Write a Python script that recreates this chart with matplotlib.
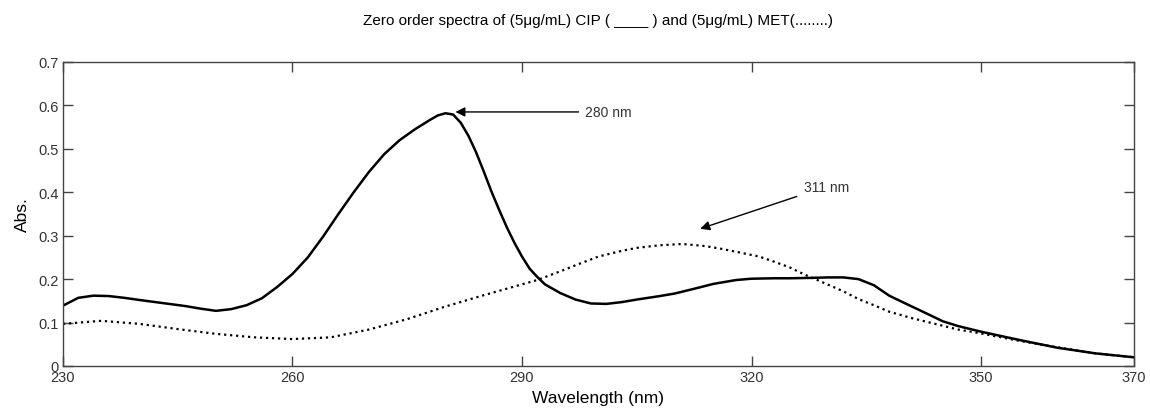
import matplotlib
matplotlib.use("Agg")
import matplotlib.pyplot as plt

plt.rcParams['font.family'] = ['Liberation Sans', 'DejaVu Sans']

# CIP (solid) spectrum
cip_wl = [230, 232, 234, 236, 238, 240, 243, 246, 248, 250, 252, 254, 256, 258, 260, 262, 264,
          266, 268, 270, 272, 274, 276, 278, 279, 280, 281, 282, 283, 284, 285, 286, 287, 288,
          289, 290, 291, 292, 293, 295, 297, 299, 301, 303, 305, 308, 310, 313, 315, 318, 320,
          323, 325, 328, 330, 332, 334, 336, 338, 340, 343, 345, 347, 350, 355, 360, 365, 370]
cip_abs = [0.139, 0.157, 0.162, 0.161, 0.157, 0.152, 0.145, 0.138, 0.132, 0.127, 0.131, 0.140,
           0.156, 0.182, 0.212, 0.250, 0.298, 0.350, 0.400, 0.447, 0.488, 0.520, 0.545, 0.567,
           0.577, 0.582, 0.579, 0.560, 0.530, 0.492, 0.448, 0.402, 0.360, 0.320, 0.284, 0.252,
           0.224, 0.205, 0.188, 0.168, 0.153, 0.144, 0.143, 0.147, 0.153, 0.161, 0.167, 0.180,
           0.189, 0.198, 0.201, 0.202, 0.202, 0.203, 0.204, 0.204, 0.200, 0.186, 0.162, 0.145,
           0.120, 0.103, 0.092, 0.079, 0.060, 0.042, 0.029, 0.020]

# MET (dotted) spectrum
met_wl = [230, 235, 240, 245, 250, 255, 260, 265, 270, 275, 280, 285, 290, 292, 295, 297, 300,
          303, 305, 308, 311, 314, 316, 318, 321, 323, 325, 327, 329, 332, 334, 336, 338, 341,
          344, 347, 350, 355, 360, 365, 370]
met_abs = [0.097, 0.104, 0.097, 0.085, 0.074, 0.066, 0.062, 0.066, 0.084, 0.108, 0.137, 0.163,
           0.188, 0.198, 0.218, 0.232, 0.252, 0.265, 0.272, 0.278, 0.281, 0.276, 0.270, 0.263,
           0.252, 0.240, 0.227, 0.210, 0.195, 0.172, 0.154, 0.140, 0.125, 0.110, 0.097, 0.084,
           0.075, 0.058, 0.043, 0.029, 0.020]

x_ticks = [230, 260, 290, 320, 350, 370]
y_ticks = [0, 0.1, 0.2, 0.3, 0.4, 0.5, 0.6, 0.7]
y_tick_labels = ['0', '0.1', '0.2', '0.3', '0.4', '0.5', '0.6', '0.7']

fig = plt.figure(figsize=(11.5, 4.1), dpi=100)
ax = fig.add_axes([63/1150, 43/410, (1134-63)/1150, (367-63)/410])

ax.plot(cip_wl, cip_abs, color='black', linewidth=1.8, linestyle='-')
ax.plot(met_wl, met_abs, color='black', linewidth=1.6, linestyle=(0, (1, 1.7)))

ax.set_xlim(230, 370)
ax.set_ylim(0, 0.7)
ax.set_xticks(x_ticks)
ax.set_yticks(y_ticks)
ax.set_yticklabels(y_tick_labels)
ax.tick_params(direction='in', length=7, width=1, top=True, right=True,
               labelsize=10.5, colors='#444444', labelcolor='#333333', pad=3)
for s in ax.spines.values():
    s.set_color('#444444')
    s.set_linewidth(1)

ax.set_xlabel('Wavelength (nm)', fontsize=12.5, labelpad=4)
ax.set_ylabel('Abs.', fontsize=12.5, labelpad=6)

fig.text(0.52, 0.95, 'Zero order spectra of (5\u03bcg/mL) CIP ( ____ ) and (5\u03bcg/mL) MET(........)',
         ha='center', va='center', fontsize=11)

ax.annotate('280 nm', xy=(281.3, 0.585), xytext=(298.3, 0.585),
            fontsize=10, va='center', ha='left', color='#333333',
            arrowprops=dict(arrowstyle='-|>', color='black', lw=1, shrinkA=3, shrinkB=0,
                            mutation_scale=14))
ax.annotate('311 nm', xy=(313.3, 0.316), xytext=(326.8, 0.413),
            fontsize=10, va='center', ha='left', color='#333333',
            arrowprops=dict(arrowstyle='-|>', color='black', lw=1, shrinkA=3, shrinkB=0,
                            mutation_scale=14))

fig.savefig('out.png', dpi=100)
